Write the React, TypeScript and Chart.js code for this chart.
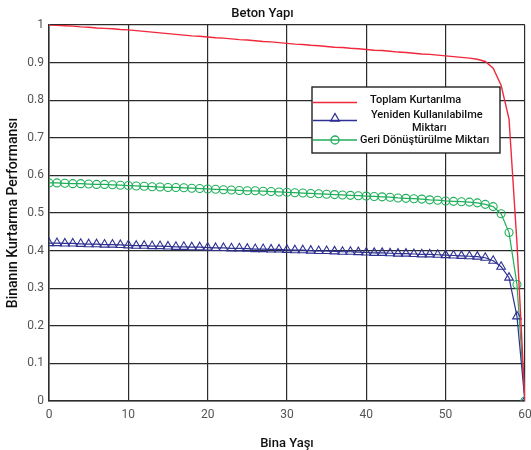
import React, { useEffect, useRef } from "react";
import { Chart, registerables } from "chart.js";

Chart.register(...registerables);

const TITLE = "Beton Yapı";
const X_TITLE = "Bina Yaşı";
const Y_TITLE = "Binanın Kurtarma Performansı";
const SERIES_LABELS = [
  "Toplam Kurtarılma",
  "Yeniden Kullanılabilme Miktarı",
  "Geri Dönüştürülme Miktarı",
];

const AGES = [
  0, 1, 2, 3, 4, 5, 6, 7, 8, 9, 10, 11, 12, 13, 14, 15, 16, 17, 18, 19, 20,
  21, 22, 23, 24, 25, 26, 27, 28, 29, 30, 31, 32, 33, 34, 35, 36, 37, 38, 39,
  40, 41, 42, 43, 44, 45, 46, 47, 48, 49, 50, 51, 52, 53, 54, 55, 56, 57, 58,
  59, 60,
];

const TOTAL = [
  1.0, 0.999, 0.998, 0.997, 0.995, 0.994, 0.992, 0.991, 0.99, 0.988, 0.987,
  0.985, 0.983, 0.981, 0.979, 0.977, 0.975, 0.973, 0.971, 0.97, 0.968,
  0.966, 0.965, 0.963, 0.961, 0.96, 0.958, 0.956, 0.955, 0.953, 0.951,
  0.949, 0.948, 0.946, 0.945, 0.943, 0.941, 0.94, 0.938, 0.937, 0.935,
  0.933, 0.932, 0.93, 0.928, 0.927, 0.925, 0.923, 0.922, 0.92, 0.918,
  0.916, 0.914, 0.912, 0.909, 0.903, 0.885, 0.84, 0.75, 0.42, 0.0,
];

const REUSE = [
  0.42, 0.42, 0.419, 0.419, 0.418, 0.417, 0.417, 0.416, 0.416, 0.415, 0.414,
  0.413, 0.413, 0.412, 0.412, 0.411, 0.41, 0.41, 0.409, 0.409, 0.408,
  0.407, 0.407, 0.406, 0.406, 0.405, 0.404, 0.404, 0.403, 0.403, 0.402,
  0.401, 0.401, 0.4, 0.399, 0.399, 0.398, 0.397, 0.397, 0.396, 0.395,
  0.394, 0.394, 0.393, 0.392, 0.392, 0.391, 0.39, 0.39, 0.389, 0.388,
  0.387, 0.386, 0.385, 0.384, 0.381, 0.373, 0.357, 0.328, 0.225, 0.0,
];

const RECYCLE = [
  0.58, 0.58, 0.579, 0.578, 0.578, 0.577, 0.576, 0.576, 0.575, 0.574, 0.573,
  0.572, 0.571, 0.57, 0.569, 0.568, 0.568, 0.567, 0.566, 0.565, 0.564,
  0.563, 0.562, 0.561, 0.56, 0.559, 0.559, 0.558, 0.557, 0.556, 0.555,
  0.554, 0.553, 0.552, 0.551, 0.55, 0.549, 0.548, 0.547, 0.546, 0.545,
  0.544, 0.543, 0.542, 0.54, 0.539, 0.538, 0.537, 0.535, 0.534, 0.532,
  0.531, 0.53, 0.529, 0.527, 0.523, 0.517, 0.498, 0.448, 0.31, 0.0,
];

const X_TICKS = [0, 10, 20, 30, 40, 50, 60];
const Y_TICKS = [0, 0.1, 0.2, 0.3, 0.4, 0.5, 0.6, 0.7, 0.8, 0.9, 1];

const RED = "#f0283c";
const BLUE = "#2e3192";
const GREEN = "#1fae5a";
const GRID = "#2b2b2b";

function drawTriangle(ctx: CanvasRenderingContext2D, x: number, y: number, r: number) {
  const a = (2 * Math.PI) / 3;
  ctx.beginPath();
  ctx.moveTo(x, y - r);
  ctx.lineTo(x + Math.sin(a) * r, y - Math.cos(a) * r);
  ctx.lineTo(x + Math.sin(2 * a) * r, y - Math.cos(2 * a) * r);
  ctx.closePath();
  ctx.stroke();
}

const boxLegend = {
  id: "boxLegend",
  afterDraw(chart: any) {
    const ctx: CanvasRenderingContext2D = chart.ctx;
    const x0 = 312;
    const y0 = 87;
    const w = 188;
    const h = 66;
    ctx.save();
    ctx.fillStyle = "#ffffff";
    ctx.fillRect(x0, y0, w, h);
    ctx.strokeStyle = "#222";
    ctx.lineWidth = 1.4;
    ctx.strokeRect(x0, y0, w, h);

    const lx1 = x0 + 1;
    const lx2 = x0 + 45;
    const mx = (lx1 + lx2) / 2;

    ctx.strokeStyle = RED;
    ctx.lineWidth = 1.3;
    ctx.beginPath();
    ctx.moveTo(lx1, 102.5);
    ctx.lineTo(lx2, 102.5);
    ctx.stroke();

    ctx.strokeStyle = BLUE;
    ctx.beginPath();
    ctx.moveTo(lx1, 120.5);
    ctx.lineTo(lx2, 120.5);
    ctx.stroke();
    drawTriangle(ctx, mx, 118.5, 5);

    ctx.strokeStyle = GREEN;
    ctx.beginPath();
    ctx.moveTo(lx1, 140);
    ctx.lineTo(lx2, 140);
    ctx.stroke();
    ctx.beginPath();
    ctx.arc(mx, 140, 4, 0, Math.PI * 2);
    ctx.stroke();

    ctx.fillStyle = "#111";
    ctx.font = "500 11px Roboto";
    ctx.textBaseline = "middle";
    ctx.textAlign = "left";
    const labels = chart.data.datasets.map((d: any) => d.label as string);
    ctx.fillText(labels[0], 370, 100.5);
    const parts = labels[1].split(" ");
    ctx.fillText(parts[0] + " " + parts[1], 371, 115.5);
    ctx.fillText(parts[2], 412, 128.5);
    ctx.fillText(labels[2], 360, 140.5);
    ctx.restore();
  },
};

export default function App() {
  const ref = useRef<HTMLCanvasElement | null>(null);

  useEffect(() => {
    document.body.style.margin = "0";
    const canvas = ref.current;
    if (!canvas) return;
    const chart = new Chart(canvas, {
      type: "line",
      data: {
        datasets: [
          {
            label: SERIES_LABELS[0],
            data: AGES.map((a, i) => ({ x: a, y: TOTAL[i] })),
            borderColor: RED,
            borderWidth: 1.4,
            pointRadius: 0,
            tension: 0,
            fill: false,
          },
          {
            label: SERIES_LABELS[1],
            data: AGES.map((a, i) => ({ x: a, y: REUSE[i] })),
            borderColor: BLUE,
            borderWidth: 1.2,
            pointStyle: "triangle",
            pointRadius: 5,
            pointBorderColor: BLUE,
            pointBackgroundColor: "rgba(0,0,0,0)",
            pointBorderWidth: 1.1,
            tension: 0,
            fill: false,
          },
          {
            label: SERIES_LABELS[2],
            data: AGES.map((a, i) => ({ x: a, y: RECYCLE[i] })),
            borderColor: GREEN,
            borderWidth: 1.2,
            pointStyle: "circle",
            pointRadius: 4,
            pointBorderColor: GREEN,
            pointBackgroundColor: "rgba(0,0,0,0)",
            pointBorderWidth: 1.1,
            tension: 0,
            fill: false,
          },
        ],
      },
      options: {
        responsive: false,
        animation: false,
        events: [],
        layout: { padding: { left: 0, right: 6, top: 0, bottom: 0 } },
        plugins: {
          legend: { display: false },
          tooltip: { enabled: false },
          title: {
            display: true,
            text: TITLE,
            color: "#111",
            font: { family: "Roboto", size: 13, weight: "500" },
            padding: { top: 6, bottom: 3.4 },
          },
        },
        scales: {
          x: {
            type: "linear",
            min: 0,
            max: 60,
            afterBuildTicks: (s: any) => {
              s.ticks = X_TICKS.map((v) => ({ value: v }));
            },
            afterFit: (s: any) => {
              s.height = 49;
              s.paddingRight = 0;
              s.paddingLeft = 0;
            },
            grid: { color: GRID, lineWidth: 1.2, drawTicks: false },
            border: { color: GRID, width: 1.5 },
            ticks: {
              padding: 7,
              color: "#555",
              maxRotation: 0,
              autoSkip: false,
              font: { family: "Roboto", size: 12 },
            },
            title: {
              display: true,
              text: X_TITLE,
              color: "#111",
              font: { family: "Roboto", size: 13, weight: "500", lineHeight: 1 },
              padding: { top: 2, bottom: 0 },
            },
          },
          y: {
            type: "linear",
            min: 0,
            max: 1,
            afterBuildTicks: (s: any) => {
              s.ticks = Y_TICKS.map((v) => ({ value: v }));
            },
            afterFit: (s: any) => {
              s.width = 49;
            },
            grid: { color: GRID, lineWidth: 1.2, drawTicks: false },
            border: { color: GRID, width: 1.5 },
            ticks: {
              padding: 5,
              color: "#555",
              autoSkip: false,
              font: { family: "Roboto", size: 12 },
              callback: (v: any) => String(Math.round(Number(v) * 10) / 10),
            },
            title: {
              display: true,
              text: Y_TITLE,
              color: "#111",
              font: { family: "Roboto", size: 14, weight: "500" },
              padding: { top: 5, bottom: 0 },
            },
          },
        },
      },
      plugins: [boxLegend],
    });
    return () => chart.destroy();
  }, []);

  return (
    <div style={{ position: "fixed", left: 0, top: 0, width: 531, height: 450 }}>
      <canvas ref={ref} width={531} height={450} style={{ width: 531, height: 450 }} />
    </div>
  );
}
